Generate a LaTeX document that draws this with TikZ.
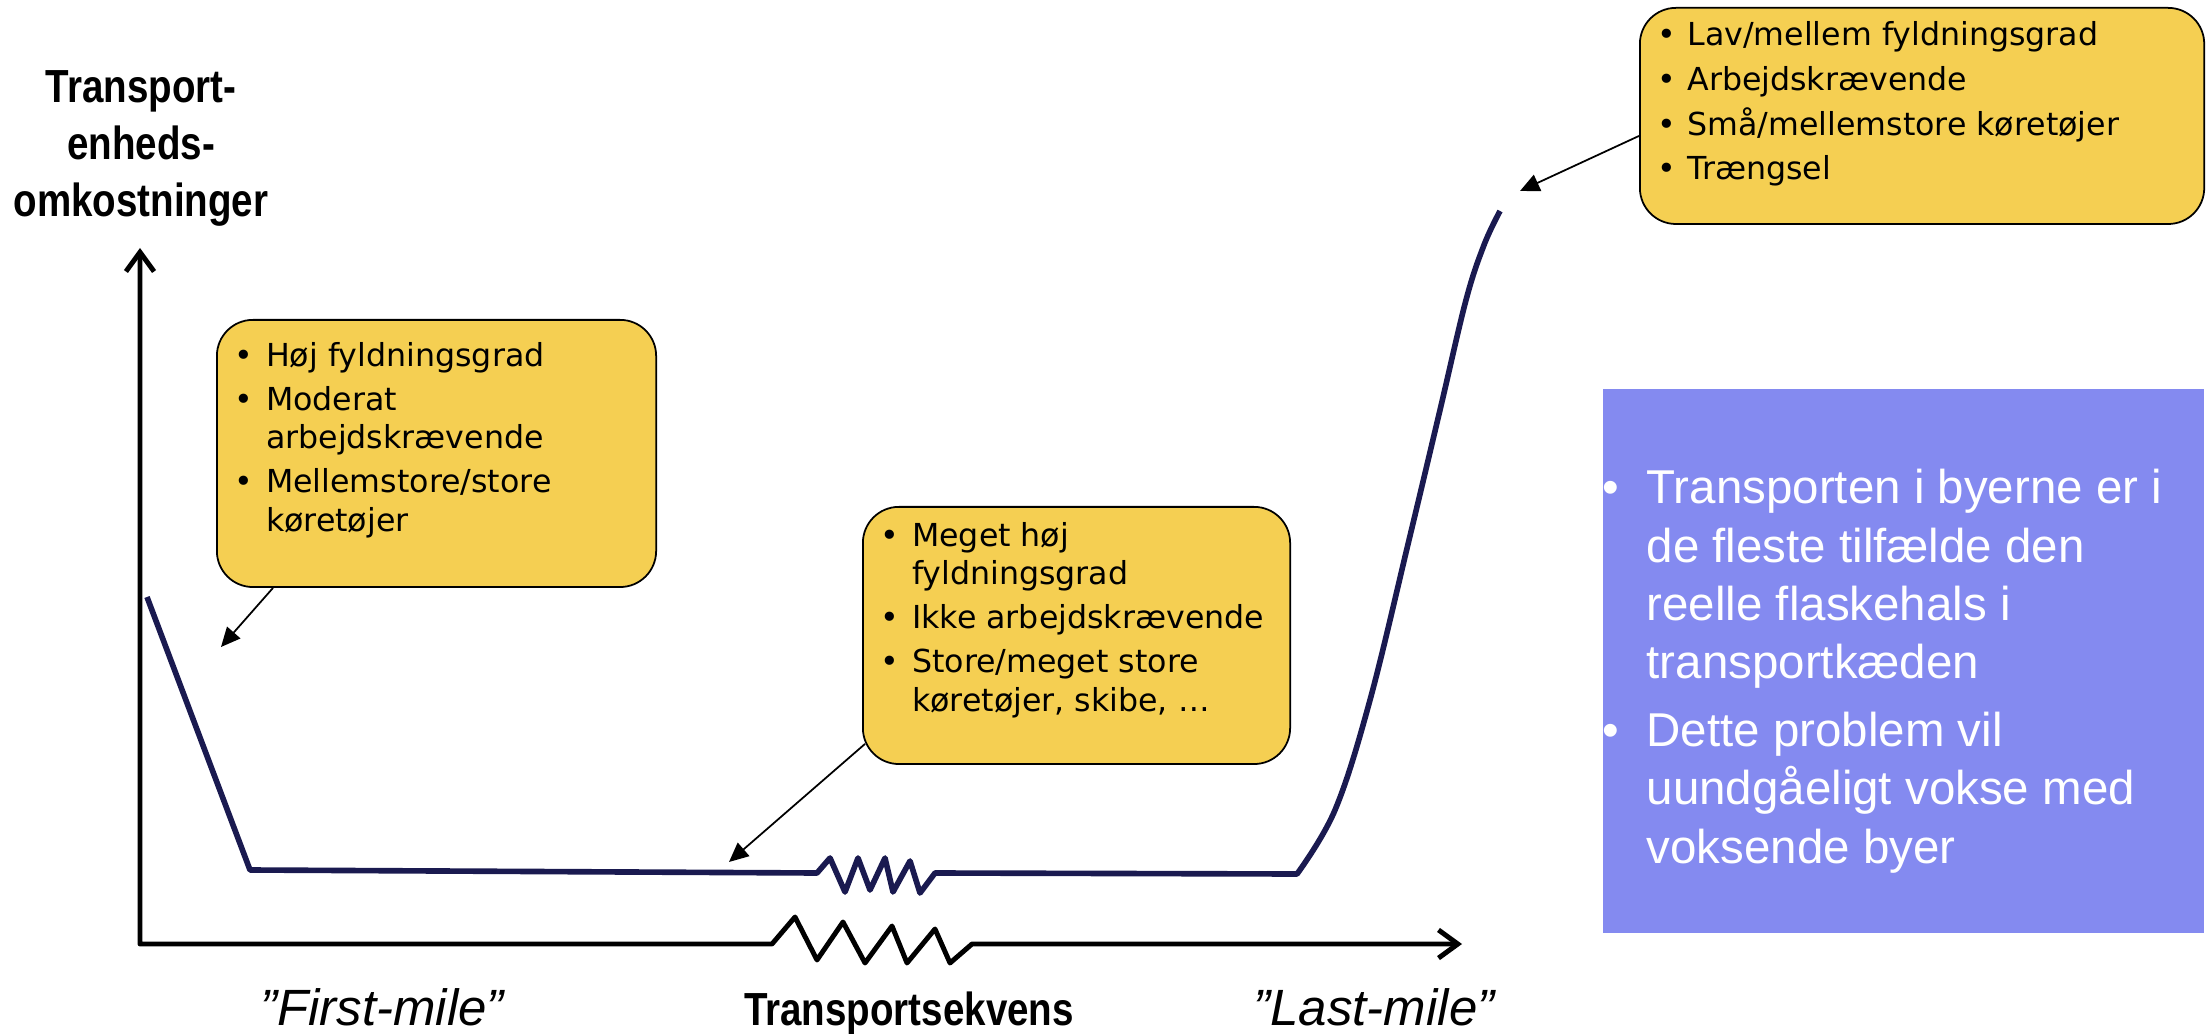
\documentclass[tikz,border=0pt]{standalone}
\usepackage{fontspec}
\usetikzlibrary{arrows.meta}
\usetikzlibrary{calc}
\definecolor{kurve}{RGB}{26,26,80}
\definecolor{boksgul}{RGB}{245,207,82}
\definecolor{lilla}{RGB}{132,138,240}
\newfontfamily\boksfont{DejaVu Sans}
\newfontfamily\arialfont{Liberation Sans}
\newfontfamily\smalfont[FakeStretch=0.83]{Liberation Sans}
\newenvironment{punkter}[3]{%
    % #1 = venstre margen
    % #2 = indrykning af punkt
    % #3 = ekstra luft mellem punkter
    \begin{list}{\textbullet}{%
        \setlength{\leftmargin}{#1}\setlength{\labelwidth}{#1}%
        \setlength{\labelsep}{0pt}\setlength{\itemindent}{0pt}%
        \setlength{\topsep}{0pt}\setlength{\partopsep}{0pt}%
        \setlength{\parsep}{0pt}\setlength{\itemsep}{#3}%
        \setlength{\rightmargin}{0pt}%
        \renewcommand{\makelabel}[1]{\hspace*{#2}##1\hfil}}%
    \raggedright}
    {\end{list}}

\begin{document}
\begin{tikzpicture}[x=0.01cm, y=-0.01cm,
    akse/.style={line width=1.4pt, line cap=round, line join=round},
    gulboks/.style={draw=black, line width=0.5pt, fill=boksgul, rounded corners=0.36cm, inner sep=0pt, anchor=north west},
    pil/.style={-{Triangle[length=5.5pt,width=5pt]}, line width=0.5pt},
    kurvelinje/.style={kurve, line width=1.6pt, line join=round}]

    \useasboundingbox (0,0) rectangle (2210,1034);

    % akser
    \coordinate (origo) at (140,944);
    \coordinate (ytop) at (140,248);
    \coordinate (xslut) at (1462,944);
    \draw[akse, {Straight Barb[length=5.5pt,width=8pt]}-{Straight Barb[length=5.5pt,width=8pt]}]
        (ytop) -- (origo) -- (772,944) -- (795,917) -- (817,960) -- (843,922) -- (865,963)
        -- (892,926) -- (907,963) -- (935,929) -- (950,963) -- (972,944) -- (xslut);

    \node[font=\smalfont\bfseries\fontsize{13.2pt}{16.2pt}\selectfont, align=center, anchor=north, inner sep=0pt]
        (ytekst) at (141,70) {Transport-\\enheds-\\omkostninger};
    \node[font=\smalfont\bfseries\fontsize{13.2pt}{16pt}\selectfont, anchor=base, inner sep=0pt]
        (xtekst) at (909,1025) {Transportsekvens};
    \node[font=\arialfont\itshape\fontsize{14.5pt}{16pt}\selectfont, anchor=base, inner sep=0pt]
        (first) at (382,1025) {”First-mile”};
    \node[font=\arialfont\itshape\fontsize{14.5pt}{16pt}\selectfont, anchor=base, inner sep=0pt]
        (last) at (1374,1025) {”Last-mile”};

    % omkostningskurven
    \draw[kurvelinje] (147,597) -- (250,870) -- (817,873) -- (830,858) -- (845,892) -- (858,858)
        -- (870,890) -- (885,858) -- (893,892) -- (910,861) -- (920,893) -- (935,873)
        -- plot[smooth, tension=0.6] coordinates {(1297,874) (1335,810) (1370,700) (1409,540)
        (1440,410) (1466,300) (1484,245) (1500,211)};

    \coordinate (pil1) at (221,647);
    \coordinate (pil2) at (729,862);
    \coordinate (pil3) at (1520,191);

    % kasserne
    \node[gulboks] (hoej) at (216,319) {\begin{minipage}[t][2.67cm][t]{4.39cm}
        \boksfont\fontsize{9pt}{11pt}\selectfont
        \vspace*{6.3pt}
        \begin{punkter}{14pt}{5pt}{1.5pt}
            \item Høj fyldningsgrad
            \item Moderat\\ arbejdskrævende
            \item Mellemstore/store\\ køretøjer
        \end{punkter}
    \end{minipage}};

    \node[gulboks] (megethoej) at (862,506) {\begin{minipage}[t][2.57cm][t]{4.27cm}
        \boksfont\fontsize{9pt}{11pt}\selectfont
        \vspace*{4.3pt}
        \begin{punkter}{14pt}{5pt}{1.5pt}
            \item Meget høj\\ fyldningsgrad
            \item Ikke arbejdskrævende
            \item Store/meget store\\ køretøjer, skibe, …
        \end{punkter}
    \end{minipage}};

    \node[gulboks] (lav) at (1639,7) {\begin{minipage}[t][2.16cm][t]{5.64cm}
        \boksfont\fontsize{9pt}{11pt}\selectfont
        \vspace*{4pt}
        \begin{punkter}{13.5pt}{5pt}{1.7pt}
            \item Lav/mellem fyldningsgrad
            \item Arbejdskrævende
            \item Små/mellemstore køretøjer
            \item Trængsel
        \end{punkter}
    \end{minipage}};

    \draw[pil] ($(hoej.south west)+(57,0)$) -- (pil1);
    \draw[pil] ($(megethoej.south west)+(3,-21)$) -- (pil2);
    \draw[pil] ($(lav.west)+(0,20)$) -- (pil3);

    % konklusion
    \node[fill=lilla, inner sep=0pt, anchor=north west, text=white] (byer) at (1602,388)
        {\begin{minipage}[t][5.44cm][t]{6.01cm}
        \arialfont\fontsize{13.5pt}{16.6pt}\selectfont
        \vspace*{22.9pt}
        \begin{punkter}{12.5pt}{0pt}{2.6pt}
            \item Transporten i byerne er i\\ de fleste tilfælde den\\ reelle flaskehals i\\ transportkæden
            \item Dette problem vil\\ uundgåeligt vokse med\\ voksende byer
        \end{punkter}
    \end{minipage}};

\end{tikzpicture}
\end{document}
